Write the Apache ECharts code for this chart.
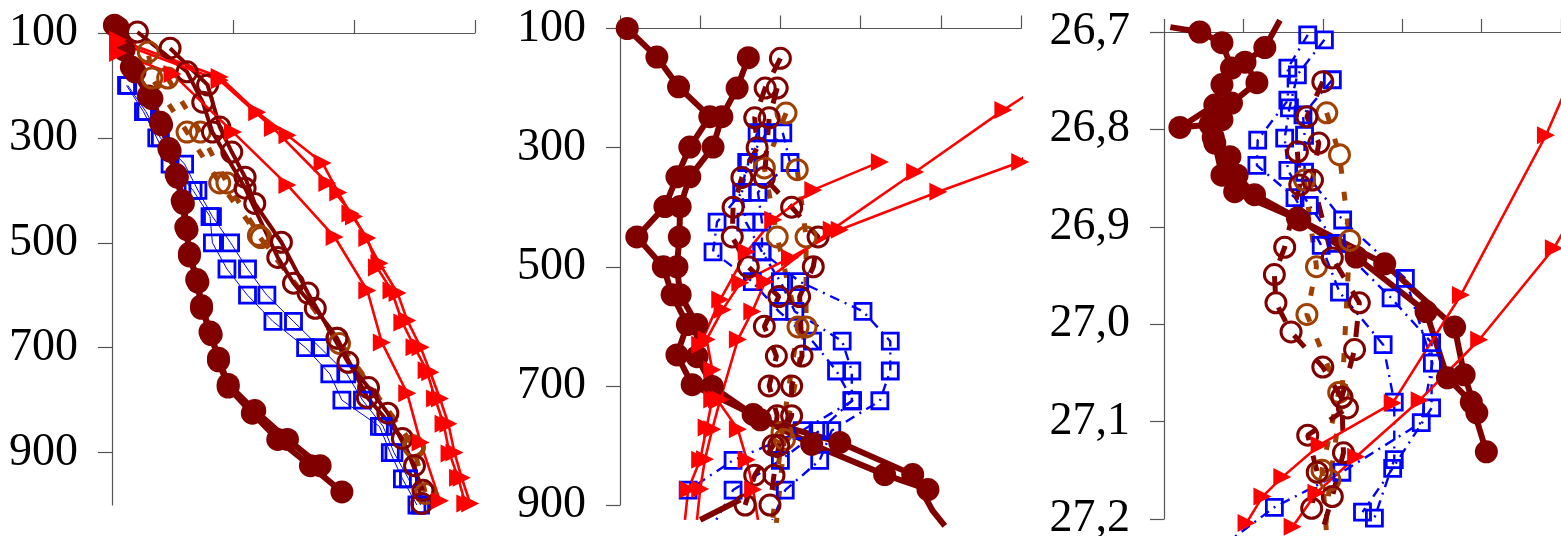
<!DOCTYPE html>
<html>
<head>
<meta charset="utf-8">
<script src="https://cdn.jsdelivr.net/npm/echarts@6/dist/echarts.min.js"></script>
<style>
  html, body { margin: 0; padding: 0; background: #fff; }
  #chart { width: 1561px; height: 536px; }
</style>
</head>
<body>
<div id="chart"></div>
<script>
// ---------- left panel (depth 100–1000) ----------
const p1SquaresA = [[0.12,200],[0.26,250],[0.37,300],[0.48,350],[0.67,400],[0.81,450],[0.83,500],[0.95,550],[1.12,600],[1.33,650],[1.60,700],[1.80,750],[1.90,800],[2.21,850],[2.30,900],[2.40,950],[2.52,1000]];
const p1SquaresB = [[0.13,200],[0.28,250],[0.40,300],[0.60,350],[0.71,400],[0.83,450],[0.98,500],[1.12,550],[1.28,600],[1.50,650],[1.72,700],[1.94,750],[2.07,800],[2.24,850],[2.33,900],[2.45,950],[2.55,1000]];
const p1FilledA = [[0.05,90],[0.10,132],[0.19,174],[0.33,225],[0.41,275],[0.48,325],[0.54,375],[0.59,425],[0.62,475],[0.64,525],[0.71,575],[0.74,625],[0.82,675],[0.88,725],[0.96,775],[1.16,825],[1.37,875],[1.64,925],[1.90,975]];
const p1FilledB = [[0.02,85],[0.08,125],[0.16,165],[0.30,220],[0.40,270],[0.47,320],[0.53,370],[0.58,420],[0.61,470],[0.64,520],[0.70,570],[0.74,620],[0.81,670],[0.88,720],[0.96,770],[1.18,820],[1.45,875],[1.72,925]];
const p1RingsA = [[0.21,98],[0.62,174],[0.75,232],[0.83,289],[1.10,396],[1.37,528],[1.50,577],[1.68,625],[1.86,682],[2.11,795],[2.40,873],[2.57,972]];
const p1RingsB = [[0.48,129],[0.79,199],[0.89,279],[0.99,327],[1.10,375],[1.18,425],[1.40,499],[1.62,596],[1.95,728],[2.12,776],[2.28,825],[2.50,925],[2.56,997]];
const p1BrownA = [[-0.06,88],[0.30,136],[0.33,186],[0.62,289],[0.89,386],[1.21,486],[1.86,682],[2.49,887],[2.59,978]];
const p1BrownB = [[0.46,186],[0.73,289],[0.95,386],[1.23,490],[1.88,692],[2.50,890]];
const p1TriA = [[0.05,138],[0.50,178],[1.00,289],[1.45,390],[1.84,489],[2.11,591],[2.23,690],[2.44,787],[2.55,881],[2.71,992]];
const p1TriB = [[0.05,113],[0.89,184],[1.20,251],[1.45,295],[1.74,348],[1.87,404],[1.97,444],[2.11,491],[2.19,547],[2.31,591],[2.40,652],[2.50,699],[2.60,743],[2.67,797],[2.74,845],[2.79,902],[2.86,948],[2.92,997]];
const p1TriC = [[0.05,118],[0.89,190],[1.33,281],[1.78,386],[2.00,450],[2.21,539],[2.36,596],[2.44,648],[2.55,699],[2.63,747],[2.71,797],[2.78,845],[2.83,900],[2.89,948],[2.96,997]];

// ---------- middle panel (depth 100–900) ----------
const p2SquaresA = [[2.03,275],[2.12,325],[1.72,375],[1.77,425],[1.77,475],[2.24,525],[3.03,575],[3.37,625],[3.37,675],[3.24,725],[2.64,775],[2.49,825],[2.06,875],[1.90,925]];
const p2SquaresB = [[1.83,275],[1.58,325],[1.52,375],[1.57,425],[1.77,475],[2.00,525],[2.18,575],[2.77,625],[2.89,675],[2.89,725],[2.49,775],[2.00,825],[1.41,875],[1.20,925]];
const p2SquaresC = [[1.71,275],[1.60,325],[1.52,375],[1.21,425],[1.16,475],[1.65,525],[1.98,575],[2.40,625],[2.70,675],[2.90,725],[2.27,775],[1.41,825],[0.85,875]];
const p2FilledA = [[0.09,100],[0.46,148],[0.73,198],[1.12,248],[0.87,299],[0.71,349],[0.56,399],[0.21,450],[0.54,500],[0.65,547],[0.84,597],[0.71,648],[0.90,698],[1.66,748],[2.39,798],[3.30,849],[3.84,874]];
const p2FilledB = [[1.60,149],[1.46,200],[1.27,248],[1.16,299],[0.87,349],[0.75,399],[0.74,450],[0.71,500],[0.75,547],[0.96,597],[0.96,651],[1.15,701],[1.75,757],[2.74,795],[3.65,849],[3.90,910],[4.05,935]];
const p2FilledC = [[1.50,891],[1.00,925]];
const p2RingsA = [[2.00,150],[1.81,200],[1.68,250],[1.71,300],[1.52,350],[1.41,400],[1.40,450],[1.60,500],[1.98,550],[1.80,600],[1.95,650],[1.86,700],[1.96,750],[1.91,800],[1.68,850],[1.56,900]];
const p2RingsB = [[1.96,200],[1.86,250],[1.80,350],[2.14,400],[2.47,450],[2.41,500],[2.24,550],[2.27,650],[2.14,700],[2.14,750],[1.98,800],[1.92,850],[1.87,900]];
const p2BrownA = [[2.07,242],[1.80,334],[1.96,450],[2.22,601],[2.02,778],[1.90,930]];
const p2BrownB = [[2.21,337],[2.32,450],[2.32,601],[2.05,790],[1.95,930]];
const p2TriA = [[5.11,208],[4.78,237],[3.68,341],[2.64,438],[1.81,525],[1.65,575],[1.47,622],[1.25,723],[1.15,773],[1.06,823],[1.00,873],[0.96,925]];
const p2TriB = [[5.11,304],[4.99,324],[3.97,374],[2.74,438],[2.12,485],[1.50,527],[1.28,572],[1.08,622],[1.15,673],[1.15,723],[1.08,770],[1.00,824],[0.85,874],[0.81,925]];
const p2TriC = [[3.24,324],[2.41,371],[1.91,421],[1.58,475],[1.25,555],[1.00,631],[1.21,723],[1.47,773],[1.58,824],[1.66,874],[1.72,925]];

// ---------- right panel (density 26,7–27,2) ----------
const p3SquaresA = [[1.81,26.703],[1.56,26.737],[1.56,26.770],[1.18,26.811],[1.17,26.837],[1.65,26.870],[1.98,26.919],[2.21,26.967],[2.76,27.021],[2.90,27.080],[2.90,27.139],[2.65,27.199]];
const p3SquaresB = [[2.02,26.708],[1.68,26.744],[1.58,26.778],[1.52,26.809],[1.56,26.842],[1.83,26.878],[2.17,26.917],[2.86,26.973],[3.37,27.019],[3.37,27.086],[2.88,27.148],[2.50,27.193]];
const p3SquaresC = [[2.12,26.749],[1.75,26.785],[1.77,26.806],[1.77,26.844],[2.25,26.893],[3.04,26.953],[3.38,27.040],[3.24,27.101],[2.24,27.152],[1.39,27.188],[0.83,27.222]];
const p3FilledA = [[1.46,26.688],[1.27,26.716],[1.02,26.731],[1.17,26.752],[0.85,26.773],[0.73,26.790],[0.62,26.808],[0.83,26.828],[0.92,26.847],[1.14,26.867],[1.68,26.891],[2.42,26.931],[3.30,26.987],[3.57,27.055],[3.87,27.080],[4.06,27.131]];
const p3FilledB = [[0.08,26.695],[0.45,26.700],[0.73,26.711],[0.85,26.737],[0.73,26.754],[0.64,26.775],[0.20,26.798],[0.58,26.795],[0.64,26.814],[0.73,26.847],[0.89,26.864],[1.71,26.893],[2.78,26.938],[3.66,27.003],[3.78,27.052],[3.94,27.091]];
const p3RingsA = [[2.00,26.751],[1.80,26.787],[1.95,26.814],[1.87,26.852],[2.12,26.932],[2.46,26.978],[2.40,27.026],[2.24,27.075],[2.26,27.132],[2.12,27.177],[1.96,27.222]];
const p3RingsB = [[1.68,26.823],[1.71,26.857],[1.52,26.921],[1.39,26.949],[1.41,26.978],[1.60,27.008],[2.00,27.044],[2.31,27.086],[1.81,27.114],[1.93,27.152],[1.86,27.189]];
const p3BrownA = [[2.05,26.783],[2.21,26.826],[2.34,26.914],[2.24,27.075],[2.09,27.160],[2.02,27.222]];
const p3BrownB = [[1.77,26.852],[1.92,26.941],[1.80,26.990],[2.20,27.070],[1.99,27.150],[2.06,27.230]];
const p3TriA = [[5.03,26.765],[4.81,26.806],[3.74,26.970],[2.88,27.081],[1.96,27.124],[1.49,27.157],[1.24,27.177],[1.04,27.204]];
const p3TriB = [[5.03,26.905],[4.91,26.922],[3.97,27.016],[3.22,27.078],[2.42,27.136],[1.92,27.173],[1.62,27.208]];

// y-axis tick settings for each panel
const yRanges = [
  { min: 100, max: 1000, interval: 200, showMax: false },
  { min: 100, max: 900, interval: 200, showMax: true },
  { min: 26.7, max: 27.2, interval: 0.1, showMax: true }
];
const xMax = [3, 5, 5];
// region (per panel) in which point markers are drawn; lines run on past it
const markBox = [
  { x0: 0, x1: 3.1, y0: 80, y1: 1005 },
  { x0: 0, x1: 5, y0: 95, y1: 905 },
  { x0: 0, x1: 5, y0: 26.698, y1: 27.21 }
];

const DARK = '#800000';
const BROWN = '#a04000';
const BLUE = '#0000ff';
const RED = '#ff0000';
const CLEAR = 'rgba(255,255,255,0)';

function base(gi, data) {
  const b = markBox[gi];
  const items = data.map(p => {
    const inside = p[0] >= b.x0 && p[0] <= b.x1 && p[1] >= b.y0 && p[1] <= b.y1;
    return inside ? p : { value: p, symbol: 'none' };
  });
  return {
    type: 'line', xAxisIndex: gi, yAxisIndex: gi, data: items,
    clip: false, silent: true, animation: false, showAllSymbol: true
  };
}
function squares(gi, data, thin) {
  return Object.assign(base(gi, data), {
    symbol: 'rect', symbolSize: 16,
    itemStyle: { color: CLEAR, borderColor: BLUE, borderWidth: 2.8 },
    lineStyle: thin ? { color: BLUE, width: 1 } : { color: BLUE, width: 2.4, type: [10, 6, 2, 6] }
  });
}
function filled(gi, data) {
  return Object.assign(base(gi, data), {
    symbol: 'circle', symbolSize: 23,
    itemStyle: { color: DARK },
    lineStyle: { color: DARK, width: 6 }
  });
}
function rings(gi, data, solid) {
  return Object.assign(base(gi, data), {
    symbol: 'circle', symbolSize: 20,
    itemStyle: { color: CLEAR, borderColor: DARK, borderWidth: 3 },
    lineStyle: solid ? { color: DARK, width: 4 } : { color: DARK, width: 5, type: [16, 16] }
  });
}
function brown(gi, data) {
  return Object.assign(base(gi, data), {
    symbol: 'circle', symbolSize: 20,
    itemStyle: { color: CLEAR, borderColor: BROWN, borderWidth: 3 },
    lineStyle: { color: BROWN, width: 5, type: [9, 18] }
  });
}
function triangles(gi, data) {
  return Object.assign(base(gi, data), {
    symbol: 'triangle', symbolSize: 18, symbolRotate: -90,
    itemStyle: { color: RED },
    lineStyle: { color: RED, width: 2.6 }
  });
}

const series = [
  squares(0, p1SquaresA, true), squares(0, p1SquaresB, true),
  filled(0, p1FilledA), filled(0, p1FilledB),
  brown(0, p1BrownA), brown(0, p1BrownB),
  rings(0, p1RingsA, true), rings(0, p1RingsB, true),
  triangles(0, p1TriA), triangles(0, p1TriB), triangles(0, p1TriC),

  squares(1, p2SquaresA), squares(1, p2SquaresB), squares(1, p2SquaresC),
  filled(1, p2FilledA), filled(1, p2FilledB), filled(1, p2FilledC),
  brown(1, p2BrownA), brown(1, p2BrownB),
  rings(1, p2RingsA), rings(1, p2RingsB),
  triangles(1, p2TriA), triangles(1, p2TriB), triangles(1, p2TriC),

  squares(2, p3SquaresA), squares(2, p3SquaresB), squares(2, p3SquaresC),
  filled(2, p3FilledA), filled(2, p3FilledB),
  brown(2, p3BrownA), brown(2, p3BrownB),
  rings(2, p3RingsA), rings(2, p3RingsB),
  triangles(2, p3TriA), triangles(2, p3TriB)
];
// the short deep fragment in the middle panel has no markers of its own
series[16].symbol = 'none';

const axisColor = '#555';
const chart = echarts.init(document.getElementById('chart'), null, { renderer: 'canvas' });
chart.setOption({
  animation: false,
  backgroundColor: '#fff',
  grid: [
    { left: 112, top: 33, width: 363, height: 472, outerBoundsMode: 'none', containLabel: false },
    { left: 620, top: 28.5, width: 401, height: 476.5, outerBoundsMode: 'none', containLabel: false },
    { left: 1164, top: 32, width: 397, height: 487, outerBoundsMode: 'none', containLabel: false }
  ],
  xAxis: [0, 1, 2].map(i => ({
    gridIndex: i, type: 'value', position: 'top',
    min: 0, max: xMax[i], interval: 1,
    axisLine: { show: true, onZero: false, lineStyle: { color: axisColor, width: 1.2 } },
    axisTick: { show: true, inside: false, length: 13, lineStyle: { color: axisColor, width: 1.2 } },
    axisLabel: { show: false },
    splitLine: { show: false }
  })),
  yAxis: [0, 1, 2].map(i => ({
    gridIndex: i, type: 'value', inverse: true,
    min: yRanges[i].min, max: yRanges[i].max, interval: yRanges[i].interval,
    axisLine: { show: true, onZero: false, lineStyle: { color: axisColor, width: 1.2 } },
    axisTick: { show: true, inside: false, length: 14, lineStyle: { color: axisColor, width: 1.2 } },
    axisLabel: {
      margin: 34, color: '#000', fontFamily: 'Liberation Serif', fontSize: 46,
      showMaxLabel: yRanges[i].showMax,
      formatter: v => i === 2 ? v.toFixed(1).replace('.', ',') : String(Math.round(v))
    },
    splitLine: { show: false }
  })),
  series: series
});
</script>
</body>
</html>
